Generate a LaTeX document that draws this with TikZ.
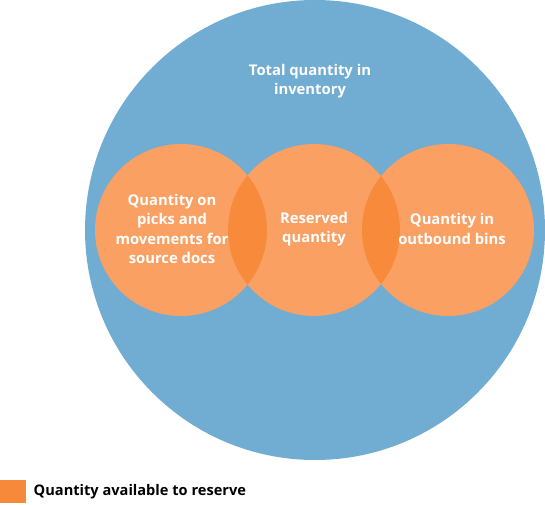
\documentclass[tikz,border=0pt]{standalone}
\usepackage{fontspec}
\setmainfont{Open Sans}
\usetikzlibrary{positioning}

\definecolor{invblue}{HTML}{71ACD2}
\definecolor{qtyorange}{HTML}{F9A062}
\definecolor{lensorange}{HTML}{F78B3B}
\definecolor{keyorange}{HTML}{F7893A}

\begin{document}
\begin{tikzpicture}[x=1pt, y=1pt]

\tikzstyle{total} = [circle, fill=invblue, minimum size=460pt, inner sep=0pt]
\tikzstyle{qty} = [circle, fill=qtyorange, minimum size=172pt, inner sep=0pt]
\tikzstyle{caption} = [text=white, font=\bfseries\fontsize{14.8}{19.5}\selectfont, align=center]
\tikzstyle{key} = [rectangle, fill=keyorange, minimum width=26pt, minimum height=23pt, inner sep=0pt]

\useasboundingbox (0,0) rectangle (545,504);

\node (total) [total] at (315,274) {};
\node (picks) [qty] at (181,274) {};
\node (reserved) [qty] at (314,274) {};
\node (outbound) [qty] at (448,274) {};

% overlaps
\begin{scope}
\clip (picks.center) circle (86pt);
\fill [lensorange] (reserved.center) circle (86pt);
\end{scope}
\begin{scope}
\clip (reserved.center) circle (86pt);
\fill [lensorange] (outbound.center) circle (86pt);
\end{scope}

\node (totaltext) [caption] at (310,423) {Total quantity in\\inventory};
\node (pickstext) [caption] at (172,275) {Quantity on\\picks and\\movements for\\source docs};
\node (reservedtext) [caption] at (314,275) {Reserved\\quantity};
\node (outboundtext) [caption] at (452,275) {Quantity in\\outbound bins};

\node (keybox) [key] at (13,12.5) {};
\node (keytext) [right=4pt of keybox, font=\bfseries\fontsize{14.6}{16}\selectfont] {Quantity available to reserve};

\end{tikzpicture}
\end{document}
